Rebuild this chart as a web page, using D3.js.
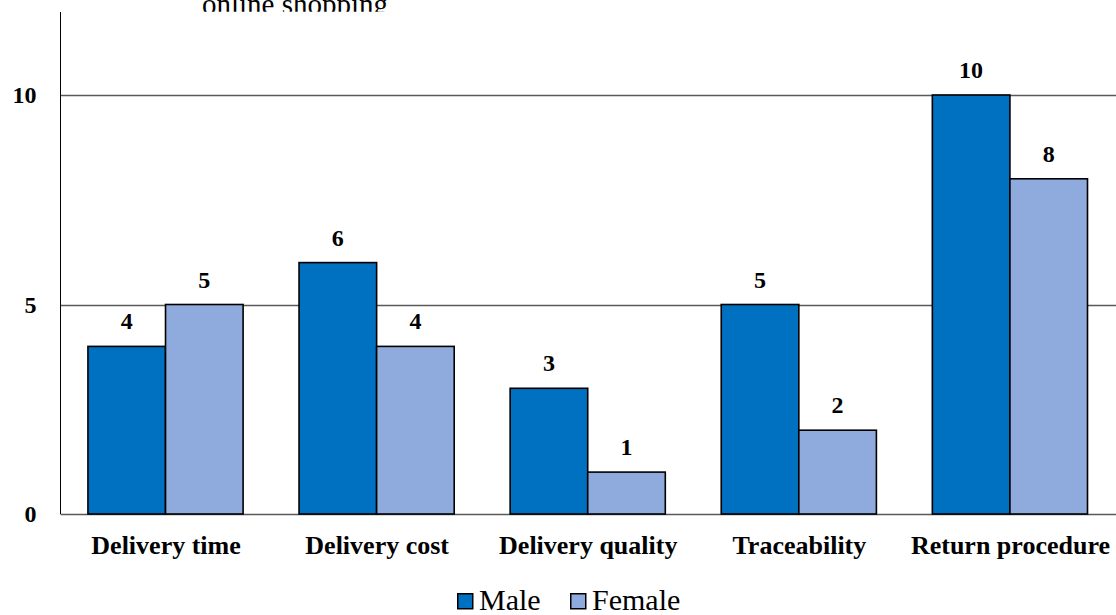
<!DOCTYPE html>
<html>
<head>
<meta charset="utf-8">
<script src="https://cdn.jsdelivr.net/npm/d3@7/dist/d3.min.js"></script>
<style>
  html, body { margin: 0; padding: 0; background: #fff; }
  svg { display: block; }
  svg text { font-family: "Liberation Serif", "Times New Roman", serif; fill: #000; }
</style>
</head>
<body>
<svg id="chart" width="1116" height="615"></svg>
<script>
// Delivery-related concerns in online shopping, by gender
const categories = ["Delivery time", "Delivery cost", "Delivery quality", "Traceability", "Return procedure"];
const series = ["Male", "Female"];
const maleValues = [4, 6, 3, 5, 10];
const femaleValues = [5, 4, 1, 2, 8];
const yTicks = [0, 5, 10];
const titleLine = "online shopping";

const colors = { Male: "#0070C0", Female: "#8FAADC" };
const valuesBySeries = { Male: maleValues, Female: femaleValues };

const svg = d3.select("#chart");
const plot = { left: 60.5, right: 1116, top: 12, bottom: 514 };

const x = d3.scaleBand().domain(categories).range([plot.left, plot.right]).padding(0);
const x1 = d3.scaleBand().domain(series)
  .range([x.bandwidth() * 0.13, x.bandwidth() * 0.865]).padding(0);
const y = d3.scaleLinear().domain([0, 12]).range([plot.bottom, plot.bottom - 12 * 41.9]);

// Title: only its last line falls inside the drawing, clipped at the plot top
svg.append("defs").append("clipPath").attr("id", "title-clip")
  .append("rect").attr("x", 0).attr("y", 0).attr("width", 1116).attr("height", 11.7);
svg.append("text")
  .attr("clip-path", "url(#title-clip)")
  .attr("x", 295).attr("y", 14)
  .attr("text-anchor", "middle")
  .attr("font-size", 29)
  .text(titleLine);

// Gridlines
svg.append("g")
  .selectAll("line")
  .data(yTicks)
  .join("line")
  .attr("x1", plot.left).attr("x2", plot.right)
  .attr("y1", d => Math.round(y(d)) + 0.5).attr("y2", d => Math.round(y(d)) + 0.5)
  .attr("stroke", "#595959").attr("stroke-width", 1.3);

// Bars
const groups = svg.append("g")
  .selectAll("g")
  .data(categories)
  .join("g")
  .attr("transform", d => `translate(${x(d)},0)`);

groups.selectAll("rect")
  .data((c, i) => series.map(s => ({ s, v: valuesBySeries[s][i] })))
  .join("rect")
  .attr("x", d => x1(d.s))
  .attr("width", x1.bandwidth())
  .attr("y", d => y(d.v))
  .attr("height", d => y(0) - y(d.v))
  .attr("fill", d => colors[d.s])
  .attr("stroke", "#000")
  .attr("stroke-width", 1.6);

// Value labels
groups.selectAll("text.val")
  .data((c, i) => series.map(s => ({ s, v: valuesBySeries[s][i] })))
  .join("text")
  .attr("class", "val")
  .attr("x", d => x1(d.s) + x1.bandwidth() / 2)
  .attr("y", d => y(d.v) - 17)
  .attr("text-anchor", "middle")
  .attr("font-size", 24)
  .attr("font-weight", "bold")
  .text(d => d.v);

// Y axis
const yAxis = d3.axisLeft(y).tickValues(yTicks).tickSize(0).tickPadding(24);
const gy = svg.append("g").attr("transform", `translate(${plot.left},0)`).call(yAxis);
gy.attr("font-family", null);
gy.select(".domain").remove();
gy.selectAll("text")
  .attr("font-size", 24)
  .attr("font-weight", "bold");
svg.append("line")
  .attr("x1", plot.left).attr("x2", plot.left)
  .attr("y1", plot.top).attr("y2", plot.bottom)
  .attr("stroke", "#000").attr("stroke-width", 1);

// X axis labels
const xAxis = d3.axisBottom(x).tickSize(0).tickPadding(22);
const gx = svg.append("g").attr("transform", `translate(0,${plot.bottom})`).call(xAxis);
gx.attr("font-family", null);
gx.select(".domain").remove();
gx.selectAll("text")
  .attr("font-size", 26)
  .attr("font-weight", "bold");

// Legend
const legend = svg.append("g").attr("transform", "translate(457,610)");
const legendX = [0, 113];
series.forEach((s, i) => {
  const g = legend.append("g").attr("transform", `translate(${legendX[i]},0)`);
  g.append("rect")
    .attr("x", 0.75).attr("y", -16.25).attr("width", 15).attr("height", 15)
    .attr("fill", colors[s]).attr("stroke", "#000").attr("stroke-width", 1.5);
  g.append("text")
    .attr("x", 22).attr("y", 0)
    .attr("font-size", 30)
    .text(s);
});
</script>
</body>
</html>
